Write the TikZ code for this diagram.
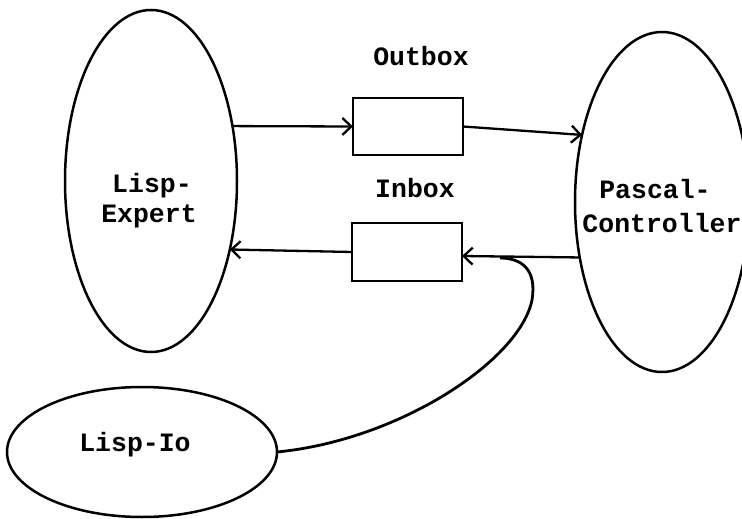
\documentclass[tikz,border=0pt]{standalone}
\usepackage{fontspec}
\newfontfamily\lblfont{Liberation Mono}
\usetikzlibrary{shapes.geometric,arrows.meta}
\tikzset{
  proc/.style={draw, ellipse, line width=2.5pt, inner sep=0pt, outer sep=0pt},
  mbox/.style={draw, rectangle, line width=2.4pt, inner sep=0pt, outer sep=0pt, minimum width=110pt, minimum height=57pt},
  lbl/.style={font=\lblfont\bfseries\fontsize{26.5}{32}\selectfont, inner sep=0pt, anchor=base},
  flow/.style={line width=2.3pt, -{Straight Barb[length=9pt,width=17pt,line width=2.3pt]}},
  loop/.style={line width=2.8pt}
}
\begin{document}
\begin{tikzpicture}[x=1pt,y=-1pt]
\useasboundingbox (0,0) rectangle (742,519);
% processes
\node[proc, minimum width=172pt, minimum height=342pt] (le) at (151,181) {};
\node[proc, minimum width=174pt, minimum height=340pt] (re) at (662,202) {};
\node[proc, minimum width=270pt, minimum height=130pt] (io) at (142,452) {};
% mailboxes
\node[mbox] (ob) at (408,126.5) {};
\node[mbox, minimum height=58pt] (ib) at (407,252) {};
% labels
\node[lbl] (t1) at (152,192) {Lisp-};
\node[lbl] (t2) at (149,222) {Expert};
\node[lbl] (t3) at (655,198) {Pascal-};
\node[lbl] (t4) at (662,232) {Controller};
\node[lbl] (t5) at (421,66) {Outbox};
\node[lbl] (t6) at (415,197) {Inbox};
\node[lbl] (t7) at (135,451) {Lisp-Io};
% connectors
\draw[flow] (le.34) -- (ob.west);
\draw[flow] (ob.east) -- (re.140);
\draw[flow] (re.214) -- ([yshift=-4pt]ib.east);
\draw[flow] (ib.west) -- (le.319);
\coordinate (j) at (500,258);
\draw[loop] (io.east) .. controls (400,440) and (520,360) .. (532,300)
  .. controls (537,270) and (522,258) .. (j);
\end{tikzpicture}
\end{document}
